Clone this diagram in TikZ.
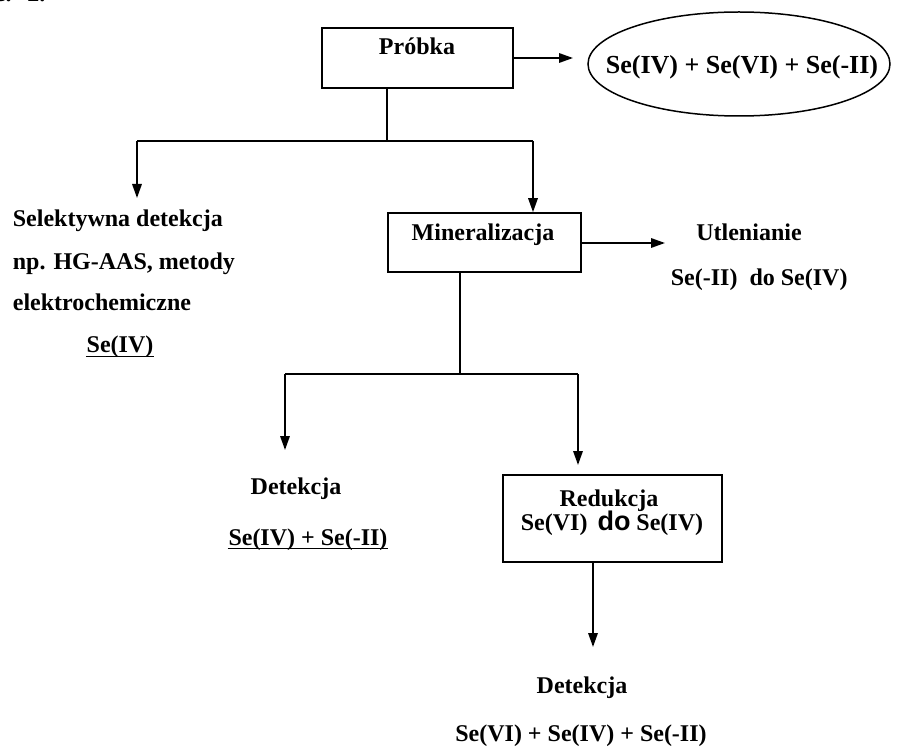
\documentclass[tikz,border=0pt]{standalone}
\usepackage{fontspec}
\setmainfont{Liberation Serif}
\newfontfamily\dofont{Liberation Sans}
\usetikzlibrary{arrows.meta,shapes.geometric}

\begin{document}
\begin{tikzpicture}[x=1pt,y=-1pt,
  line width=1.7pt,
  arr/.style={-{Triangle[length=14pt,width=9.5pt]}},
  stepbox/.style={draw,line width=1.7pt,inner sep=0pt},
  lbl/.style={font=\fontsize{24}{28}\selectfont\bfseries,inner sep=0pt,anchor=base},
]
\useasboundingbox (0,0) rectangle (900,751);

% heading fragment at the top edge
\node[lbl,anchor=base west] (head) at (-6,2) {e.\hspace{16pt}2.};

% ---------- top row ----------
\node[stepbox,minimum width=191pt,minimum height=60pt] (probka) at (417.5,58) {};
\node[lbl] (probkaT) at (417,55) {Próbka};

\node[draw,ellipse,line width=1.5pt,minimum width=302pt,minimum height=104pt,inner sep=0pt] (ell) at (739,64) {};
\node[lbl,font=\fontsize{26}{30}\selectfont\bfseries] (ellT) at (742,74) {Se(IV) + Se(VI) + Se(-II)};

\coordinate (t1) at (573,58);
\draw[arr] (probka.east) -- (t1);

% ---------- first split ----------
\coordinate (j1) at (387,141);
\coordinate (jL) at (137,141);
\coordinate (jR) at (533,141);
\coordinate (tL) at (137,198);
\draw (probka.south -| j1) -- (j1);
\draw (jL) -- (jR);
\draw[arr] (jL) -- (tL);

% selective detection branch
\node[lbl,anchor=base west] (sel1) at (12,227) {Selektywna detekcja};
\node[lbl,anchor=base west] (sel2) at (12,270) {np. HG-AAS, metody};
\node[lbl,anchor=base west] (sel3) at (12,311) {elektrochemiczne};
\node[lbl] (sel4) at (120,353) {Se(IV)};
\draw[line width=1.2pt] ([yshift=-3.5pt]sel4.base west) -- ([yshift=-3.5pt]sel4.base east);

% mineralisation
\node[stepbox,minimum width=193pt,minimum height=59pt] (miner) at (484.5,242.5) {};
\node[lbl] (minerT) at (483,241) {Mineralizacja};
\draw[arr] (jR) -- (miner.north -| jR);

\coordinate (t2) at (665,243);
\draw[arr] (miner.east |- t2) -- (t2);
\node[lbl] (utl1) at (749,241) {Utlenianie};
\node[lbl,anchor=base west] (utl2) at (670,286) {Se(-II)\hspace{6pt} do Se(IV)};

% ---------- second split ----------
\coordinate (j2) at (460,374);
\coordinate (kL) at (285,374);
\coordinate (kR) at (578,374);
\coordinate (uL) at (285,450);
\coordinate (uR) at (578,465);
\draw (miner.south -| j2) -- (j2);
\draw (kL) -- (kR);
\draw[arr] (kL) -- (uL);
\draw[arr] (kR) -- (uR);

\node[lbl] (det1) at (296,494) {Detekcja};
\node[lbl] (det1b) at (308,545) {Se(IV) + Se(-II)};
\draw[line width=1.2pt] ([yshift=-3.5pt]det1b.base west) -- ([yshift=-3.5pt]det1b.base east);

% reduction
\node[stepbox,minimum width=219pt,minimum height=87pt] (red) at (612.5,518.5) {};
\node[lbl] (redT) at (609,506) {Redukcja};
\node[lbl] (redT2) at (612,530) {Se(VI)\hspace{10pt}{\dofont\fontsize{27}{30}\selectfont\bfseries do} Se(IV)};

\coordinate (t3) at (593,647);
\draw[arr] (red.south -| t3) -- (t3);

\node[lbl] (det2) at (582,693) {Detekcja};
\node[lbl] (det2b) at (581,741) {Se(VI) + Se(IV) + Se(-II)};
\end{tikzpicture}
\end{document}
